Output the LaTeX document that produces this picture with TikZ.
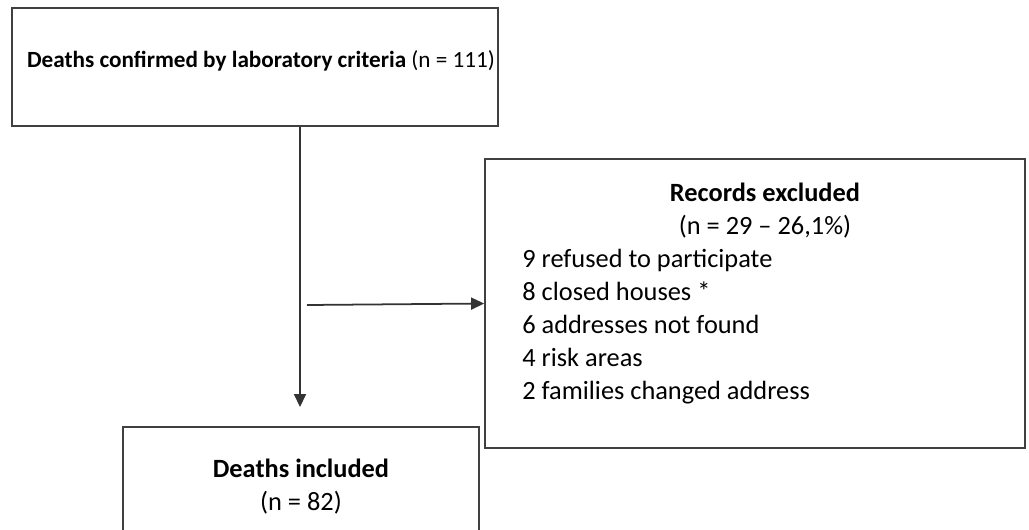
\documentclass[tikz,border=0pt]{standalone}
\usepackage{fontspec}
\setmainfont{Carlito}
\usetikzlibrary{arrows.meta,positioning}

\begin{document}
\begin{tikzpicture}[every node/.style={font=\fontsize{15}{18.8}\selectfont},
	box/.style={draw=black!75, line width=1pt},
	arr/.style={-{Triangle[length=0.26cm,width=0.24cm]}, draw=black!80, line width=1pt}]
			% Frame
			\useasboundingbox (0,0) rectangle (20.58,-10.58);
			\clip (0,0) rectangle (20.58,-10.58);

			% Nodes
			\node[box, minimum width=9.72cm, minimum height=2.36cm, inner xsep=0pt, text depth=0.32cm,
				font=\fontsize{13.2}{16}\selectfont] (conf) at (5.1,-1.34) {\hspace{0.24cm}\textbf{Deaths confirmed by laboratory criteria} (n = 111)};
			\node[box, minimum width=10.8cm, minimum height=5.78cm] (excl) at (15.1,-6.07) {};
			\node[align=center, inner sep=0pt, anchor=north] (excltitle) at (15.3,-3.66) {\textbf{Records excluded}\\(n = 29 -- 26,1\%)};
			\node[align=left, inner sep=0pt, anchor=north west] (excllist) at (10.44,-4.98) {9 refused to participate\\8 closed houses *\\6 addresses not found\\4 risk areas\\2 families changed address};
			\node[box, align=center, minimum width=7.12cm, minimum height=2.4cm] (incl) at (6.02,-9.74) {\textbf{Deaths included}\\(n = 82)};

			% Links
			\coordinate (tip) at (6.0,-8.14);
			\coordinate (branch) at (6.14,-6.1);
			\draw[arr] (conf.south -| tip) -- (tip);
			\draw[arr] (branch) -- (excl.west);
		\end{tikzpicture}
\end{document}
